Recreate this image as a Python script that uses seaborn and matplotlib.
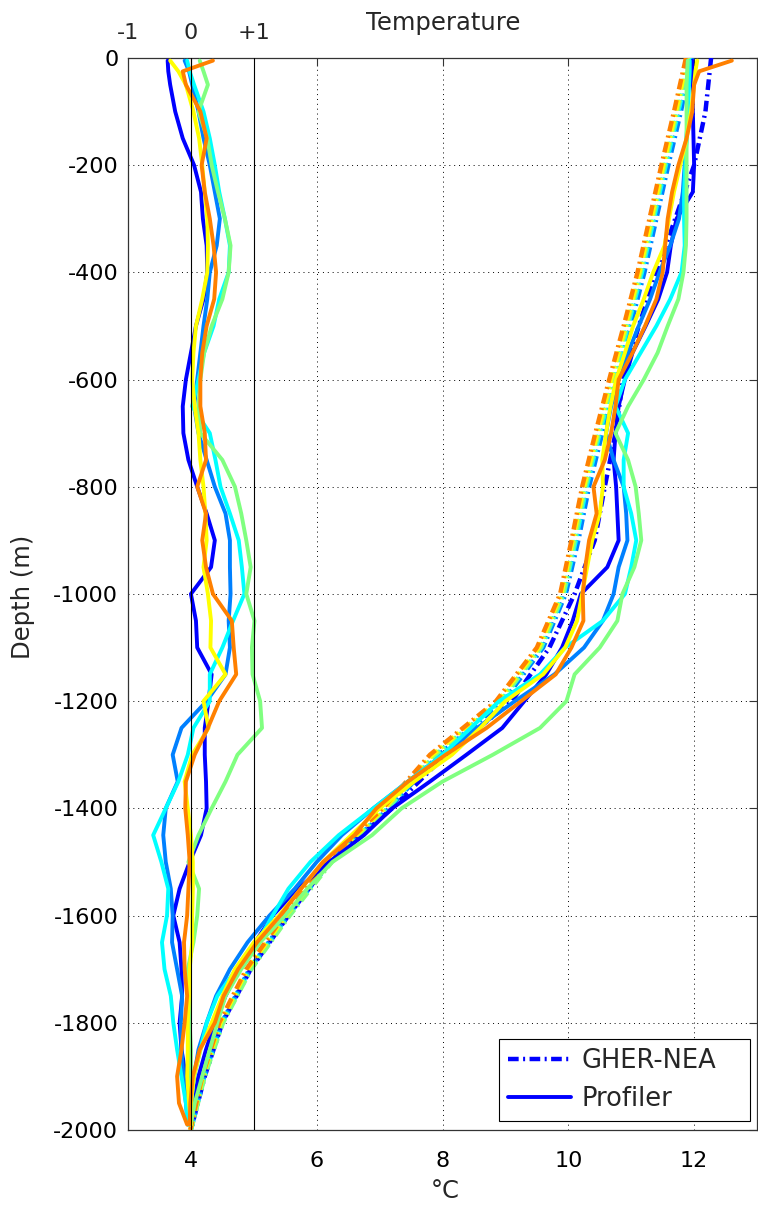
import numpy as np
import pandas as pd
import matplotlib
matplotlib.use("Agg")
import matplotlib.pyplot as plt
from matplotlib.lines import Line2D
import seaborn as sns

# ---------------------------------------------------------------- data
# depth levels (m) of the profiler casts and of the anomaly profiles
depth = [-5, -25, -50, -100, -150, -200, -250, -300, -350, -400, -450, -500,
         -550, -600, -650, -700, -750, -800, -850, -900, -950, -1000, -1050,
         -1100, -1150, -1200, -1250, -1300, -1350, -1400, -1450, -1500, -1550,
         -1600, -1650, -1700, -1750, -1800, -1850, -1900, -1950, -1990]

# depth levels (m) of the GHER-NEA model profiles
model_depth = [0, -100, -200, -300, -400, -500, -600, -700, -800, -900, -1000,
               -1100, -1200, -1300, -1400, -1500, -1600, -1700, -1800, -1900, -2000]

profile_names = ["P1", "P2", "P3", "P4", "P5", "P6"]
profile_colors = ["#0000ff", "#0080ff", "#00ffff", "#80ff80", "#ffff00", "#ff8000"]

# profiler temperature (deg C)
prof_p1 = [11.97, 11.97, 11.98, 11.98, 11.99, 12.0, 11.98, 11.72, 11.63, 11.57, 11.43, 11.23,
           11.02, 10.9, 10.8, 10.75, 10.72, 10.76, 10.78, 10.8, 10.62, 10.2, 10.07,
           9.9, 9.65, 9.3, 8.95, 8.38, 7.8, 7.2, 6.75, 6.2, 5.7,
           5.3, 5.02, 4.76, 4.55, 4.38, 4.24, 4.12, 4.04, 4.0]
prof_p2 = [11.9, 11.9, 11.9, 11.9, 11.88, 11.85, 11.82, 11.76, 11.62, 11.45, 11.3, 11.12,
           10.95, 10.8, 10.68, 10.6, 10.72, 10.88, 10.92, 10.94, 10.8, 10.72, 10.55,
           10.25, 9.78, 9.15, 8.55, 8.0, 7.45, 6.9, 6.4, 6.0, 5.65,
           5.25, 4.9, 4.62, 4.4, 4.25, 4.12, 4.05, 4.0, 3.98]
prof_p3 = [11.93, 11.93, 11.92, 11.9, 11.88, 11.86, 11.84, 11.84, 11.85, 11.8, 11.62, 11.4,
           11.15, 10.9, 10.75, 10.95, 10.88, 10.88, 11.0, 11.08, 11.0, 10.9, 10.55,
           9.95, 9.55, 8.9, 8.45, 8.0, 7.45, 6.9, 6.35, 5.9, 5.55,
           5.3, 5.05, 4.72, 4.42, 4.25, 4.15, 4.05, 4.0, 3.98]
prof_p4 = [11.9, 11.89, 11.88, 11.88, 11.88, 11.88, 11.88, 11.88, 11.87, 11.83, 11.75, 11.58,
           11.42, 11.2, 10.95, 10.75, 10.95, 11.07, 11.12, 11.16, 11.05, 10.86, 10.78,
           10.5, 10.1, 9.97, 9.55, 8.8, 8.0, 7.35, 6.88, 6.25, 5.85,
           5.5, 5.1, 4.8, 4.55, 4.42, 4.3, 4.18, 4.06, 4.0]
prof_p5 = [12.05, 12.02, 12.0, 11.95, 11.88, 11.78, 11.68, 11.6, 11.53, 11.35, 11.2, 11.03,
           10.9, 10.76, 10.67, 10.6, 10.54, 10.55, 10.5, 10.38, 10.3, 10.22, 10.14,
           9.95, 9.6, 9.0, 8.6, 8.15, 7.55, 7.0, 6.55, 6.1, 5.75,
           5.4, 5.0, 4.7, 4.5, 4.33, 4.15, 4.05, 4.0, 3.98]
prof_p6 = [12.6, 12.08, 12.0, 11.97, 11.88, 11.75, 11.65, 11.58, 11.54, 11.5, 11.4, 11.22,
           11.02, 10.8, 10.75, 10.68, 10.58, 10.4, 10.45, 10.33, 10.27, 10.23, 10.24,
           10.05, 9.8, 9.25, 8.7, 8.05, 7.45, 6.95, 6.6, 6.1, 5.75,
           5.42, 5.05, 4.75, 4.52, 4.38, 4.14, 4.03, 3.99, 3.98]

# GHER-NEA model temperature (deg C) at the cast positions
model_p1 = [12.27, 12.18, 12.0, 11.7, 11.4, 11.12, 10.87, 10.75, 10.58, 10.42, 10.1,
            9.7, 9.1, 8.05, 7.2, 6.2, 5.55, 4.95, 4.5, 4.22, 4.0]
model_p2 = [11.97, 11.79, 11.59, 11.4, 11.21, 10.99, 10.76, 10.54, 10.33, 10.16, 9.96,
            9.6, 8.97, 7.94, 7.15, 6.22, 5.54, 4.93, 4.49, 4.21, 4.0]
model_p3 = [11.94, 11.75, 11.55, 11.36, 11.17, 10.95, 10.72, 10.5, 10.29, 10.12, 9.93,
            9.57, 8.93, 7.9, 7.13, 6.22, 5.55, 4.94, 4.5, 4.21, 4.0]
model_p4 = [11.92, 11.73, 11.53, 11.34, 11.15, 10.93, 10.7, 10.48, 10.27, 10.1, 9.92,
            9.56, 8.92, 7.88, 7.12, 6.24, 5.57, 4.96, 4.51, 4.22, 4.0]
model_p5 = [11.9, 11.71, 11.51, 11.32, 11.13, 10.91, 10.68, 10.46, 10.25, 10.07, 9.89,
            9.53, 8.88, 7.84, 7.08, 6.18, 5.51, 4.9, 4.47, 4.19, 3.99]
model_p6 = [11.87, 11.68, 11.48, 11.29, 11.1, 10.88, 10.65, 10.43, 10.22, 10.05, 9.87,
            9.5, 8.85, 7.8, 7.05, 6.15, 5.48, 4.88, 4.45, 4.18, 3.99]

# profiler minus model anomaly (deg C), read on the -1 .. +1 scale
anom_p1 = [-0.37, -0.36, -0.33, -0.25, -0.13, 0.05, 0.16, 0.19, 0.25, 0.26, 0.2, 0.08,
           0.0, -0.08, -0.13, -0.12, -0.04, 0.1, 0.25, 0.38, 0.32, 0.0, 0.08,
           0.1, 0.33, 0.28, 0.22, 0.22, 0.24, 0.25, 0.16, -0.02, -0.18,
           -0.28, -0.18, -0.15, -0.14, -0.18, -0.15, -0.08, -0.03, -0.01]
anom_p2 = [-0.1, -0.03, 0.02, 0.12, 0.2, 0.3, 0.38, 0.46, 0.41, 0.3, 0.26, 0.2,
           0.15, 0.1, 0.05, 0.12, 0.25, 0.38, 0.55, 0.62, 0.62, 0.63, 0.6,
           0.62, 0.55, 0.25, -0.15, -0.29, -0.21, -0.4, -0.44, -0.4, -0.32,
           -0.29, -0.3, -0.22, -0.14, -0.16, -0.15, -0.12, -0.08, -0.05]
anom_p3 = [-0.06, -0.02, 0.05, 0.2, 0.3, 0.38, 0.45, 0.54, 0.62, 0.6, 0.45, 0.36,
           0.21, 0.12, 0.02, 0.3, 0.39, 0.47, 0.62, 0.76, 0.81, 0.85, 0.67,
           0.5, 0.3, 0.3, 0.04, -0.05, -0.2, -0.4, -0.6, -0.47, -0.36,
           -0.38, -0.46, -0.42, -0.32, -0.28, -0.22, -0.15, -0.08, -0.05]
anom_p4 = [0.14, 0.2, 0.27, 0.12, 0.26, 0.33, 0.43, 0.54, 0.63, 0.6, 0.5, 0.33,
           0.21, 0.15, 0.12, 0.15, 0.5, 0.7, 0.8, 0.88, 0.95, 0.88, 1.01,
           0.97, 0.98, 1.1, 1.13, 0.74, 0.55, 0.33, 0.12, -0.04, 0.13,
           0.1, 0.04, -0.05, -0.03, -0.02, 0.0, 0.0, 0.01, 0.0]
anom_p5 = [-0.33, -0.2, -0.08, 0.04, 0.13, 0.18, 0.22, 0.26, 0.27, 0.26, 0.18, 0.08,
           0.04, 0.02, 0.06, 0.12, 0.15, 0.2, 0.23, 0.25, 0.2, 0.27, 0.32,
           0.31, 0.55, 0.2, 0.28, 0.02, -0.1, -0.05, 0.0, 0.03, 0.03,
           0.02, 0.02, -0.02, -0.03, -0.05, -0.05, -0.06, -0.03, 0.0]
anom_p6 = [0.35, -0.13, -0.08, 0.15, 0.25, 0.17, 0.22, 0.3, 0.36, 0.4, 0.37, 0.25,
           0.18, 0.15, 0.15, 0.22, 0.24, 0.1, 0.24, 0.18, 0.24, 0.35, 0.65,
           0.68, 0.72, 0.45, 0.27, 0.06, -0.08, -0.09, -0.05, -0.02, -0.04,
           -0.06, -0.11, -0.1, -0.06, -0.1, -0.15, -0.22, -0.19, -0.06]

profiler = [prof_p1, prof_p2, prof_p3, prof_p4, prof_p5, prof_p6]
model = [model_p1, model_p2, model_p3, model_p4, model_p5, model_p6]
anomaly = [anom_p1, anom_p2, anom_p3, anom_p4, anom_p5, anom_p6]

x_ticks = [4, 6, 8, 10, 12]
y_ticks = list(range(-2000, 1, 200))
anom_ticks = [-1, 0, 1]
anom_labels = ["-1", "0", "+1"]
ANOM_ZERO = 4.0   # the anomaly scale is centred on the 4 deg C grid line

# ---------------------------------------------------------------- style
sns.set_theme(style="white")
plt.rcParams["font.family"] = ["DejaVu Sans"]
plt.rcParams["axes.unicode_minus"] = False
FS = 16          # tick labels
FS_LAB = 17.5    # axis labels and title
FS_LEG = 18.5    # legend

fig = plt.figure(figsize=(7.58, 12.12), dpi=100)
ax = fig.add_axes([0.1689, 0.0677, 0.8298, 0.8845])

dashdot = (0, (2.4, 1.0, 0.45, 1.0))
LW = 2.8

frames = []
for name, prof, mod, anom in zip(profile_names, profiler, model, anomaly):
    frames.append(pd.DataFrame({"cast": name, "kind": "profiler", "depth": depth, "temp": prof}))
    frames.append(pd.DataFrame({"cast": name, "kind": "model", "depth": model_depth, "temp": mod}))
    frames.append(pd.DataFrame({"cast": name, "kind": "anomaly", "depth": depth,
                                "temp": np.asarray(anom) + ANOM_ZERO}))
df = pd.concat(frames, ignore_index=True)

for name, color in zip(profile_names, profile_colors):
    sub = df[df["cast"] == name]
    m = sub[sub["kind"] == "model"]
    sns.lineplot(data=m, x="temp", y="depth", sort=False, estimator=None, orient="y",
                 color=color, lw=LW + 0.4, linestyle=dashdot, ax=ax, zorder=3)
for name, color in zip(profile_names, profile_colors):
    sub = df[df["cast"] == name]
    p = sub[sub["kind"] == "profiler"]
    a = sub[sub["kind"] == "anomaly"]
    sns.lineplot(data=p, x="temp", y="depth", sort=False, estimator=None, orient="y",
                 color=color, lw=LW, ax=ax, zorder=4)
    sns.lineplot(data=a, x="temp", y="depth", sort=False, estimator=None, orient="y",
                 color=color, lw=LW, ax=ax, zorder=4)

# reference lines of the anomaly scale (0 and +1)
for xv in (ANOM_ZERO, ANOM_ZERO + 1):
    ax.axvline(xv, color="black", lw=0.8, zorder=5)

ax.set_xlim(3, 13)
ax.set_ylim(-2000, 0)
ax.set_xticks(x_ticks)
ax.set_yticks(y_ticks)
ax.set_xlabel("")
ax.set_ylabel("")
ax.grid(True, color="black", lw=0.7, linestyle=(0, (1, 4)))
ax.set_axisbelow(True)
ax.tick_params(axis="both", which="both", direction="in", length=6, width=0.8,
               top=True, right=True, labelsize=FS, colors="#333333", labelcolor="black")
ax.tick_params(axis="x", pad=15)
ax.tick_params(axis="y", pad=7)
for s in ax.spines.values():
    s.set_color("#333333")
    s.set_linewidth(0.9)

# anomaly scale on top
sec = ax.secondary_xaxis("top", functions=(lambda t: t - ANOM_ZERO, lambda a: a + ANOM_ZERO))
sec.set_xticks(anom_ticks)
sec.set_xticklabels(anom_labels)
sec.tick_params(length=0, labelsize=FS, pad=11)
sec.spines["top"].set_visible(False)

fig.text(0.5845, 1 - 23 / 1212, "Temperature", ha="center", va="center", fontsize=FS_LAB)
fig.text(23 / 758, 1 - 597 / 1212, "Depth (m)", ha="center", va="center",
         rotation=90, fontsize=FS_LAB)
fig.text(445 / 758, 1 - 1191 / 1212, "°C", ha="center", va="center", fontsize=FS_LAB)

handles = [Line2D([], [], color="#0000ff", lw=LW + 0.4, linestyle=dashdot),
           Line2D([], [], color="#0000ff", lw=LW)]
leg = ax.legend(handles, ["GHER-NEA", "Profiler"], loc="lower left",
                bbox_to_anchor=(0.590, 0.0084, 0.399, 0.0756), mode="expand",
                fontsize=FS_LEG, frameon=True, fancybox=False, framealpha=1,
                edgecolor="black", handlelength=2.45, handletextpad=0.4,
                borderaxespad=0.0, labelspacing=0.45, borderpad=0.35)
leg.get_frame().set_linewidth(0.8)

fig.savefig("out.png", dpi=100)
